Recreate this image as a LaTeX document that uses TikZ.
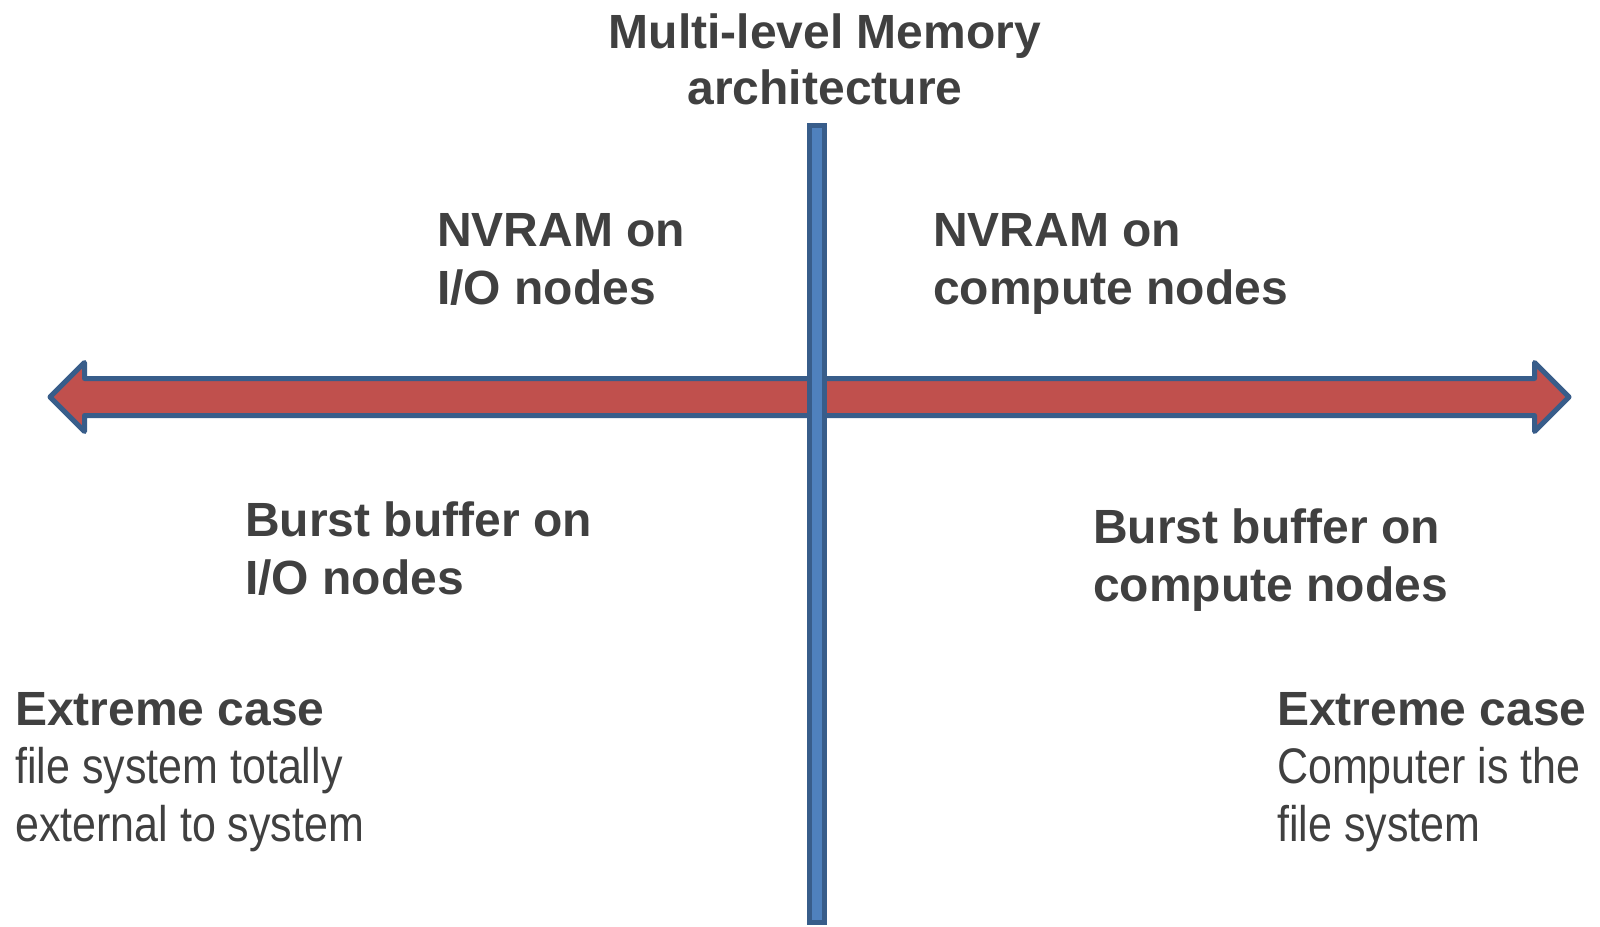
\documentclass[tikz,border=0pt]{standalone}
\usepackage{fontspec}
\setmainfont{Liberation Sans}
\newfontfamily\narrowsans{Liberation Sans}[FakeStretch=0.86]
\usepackage{tikz}
\usetikzlibrary{positioning,shapes.arrows}
\definecolor{txtgray}{HTML}{404040}
\definecolor{axisred}{HTML}{C0504D}
\definecolor{axisblue}{HTML}{4F81BD}
\definecolor{rimblue}{HTML}{385D8A}
\newcommand{\plain}[1]{{\narrowsans\mdseries\fontsize{50}{58}\selectfont #1}}

\begin{document}
\begin{tikzpicture}[x=1pt,y=-1pt,
  label/.style={anchor=north west,inner sep=0pt,align=left,text=txtgray,font=\bfseries\fontsize{48}{58}\selectfont},
  title/.style={anchor=north,inner sep=0pt,align=center,text=txtgray,font=\bfseries\fontsize{48}{56}\selectfont},
  haxis/.style={double arrow,double arrow head extend=16pt,double arrow tip angle=90,minimum height=1519pt,inner sep=16pt,fill=axisred,draw=rimblue,line width=5pt,line join=round},
  vaxis/.style={rectangle,minimum width=15pt,minimum height=797pt,inner sep=0pt,fill=axisblue,draw=rimblue,line width=5pt}
]
\useasboundingbox (0,0) rectangle (1600,926);
\node[haxis] (memaxis) at (809.5,397) {};
\node[vaxis] (levelaxis) at (817,524) {};
\node[title] (head) at (825,14) {Multi-level Memory\\architecture};
\node[label] (nvio) at (437,213) {NVRAM on\\I/O nodes};
\node[label] (nvcomp) at (933,213) {NVRAM on\\compute nodes};
\node[label] (bbio) at (245,502) {Burst buffer on\\I/O nodes};
\node[label] (bbcomp) at (1093,509) {Burst buffer on\\compute nodes};
\node[label] (extio) at (15,692) {Extreme case\\\plain{file system totally}\\\plain{external to system}};
\node[label] (extcomp) at (1277,692) {Extreme case\\\plain{Computer is the}\\\plain{file system}};
\end{tikzpicture}
\end{document}
